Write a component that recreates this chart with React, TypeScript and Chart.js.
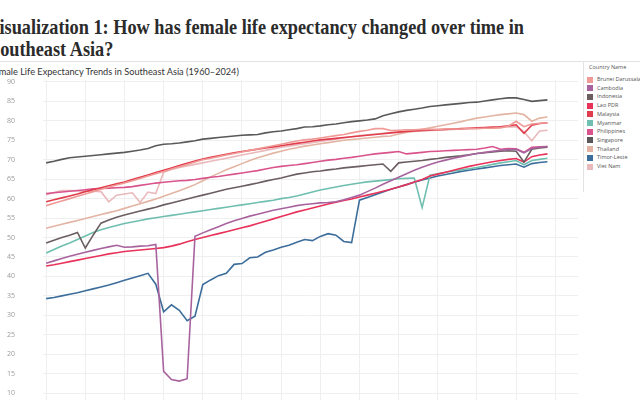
import React, { useEffect, useRef } from "react";
import { Chart, registerables } from "chart.js";
Chart.register(...registerables);

const years = [
  1960, 1961, 1962, 1963, 1964, 1965, 1966, 1967, 1968, 1969,
  1970, 1971, 1972, 1973, 1974, 1975, 1976, 1977, 1978, 1979,
  1980, 1981, 1982, 1983, 1984, 1985, 1986, 1987, 1988, 1989,
  1990, 1991, 1992, 1993, 1994, 1995, 1996, 1997, 1998, 1999,
  2000, 2001, 2002, 2003, 2004, 2005, 2006, 2007, 2008, 2009,
  2010, 2011, 2012, 2013, 2014, 2015, 2016, 2017, 2018, 2019,
  2020, 2021, 2022, 2023, 2024,
];

const countries = [
  "Brunei Darussalam", "Cambodia", "Indonesia", "Lao PDR", "Malaysia", "Myanmar",
  "Philippines", "Singapore", "Thailand", "Timor-Leste", "Viet Nam",
];

const colors = [
  "#ef9a97", "#a8639f", "#6b5e60", "#e8325a", "#e03c4b", "#6fbfb0",
  "#d9548c", "#5b5859", "#e3b4a3", "#3c6d9b", "#e9b9bb",
];

const brunei = [
  58.2, 58.8, 59.4, 60.0, 60.6, 61.2, 61.8, 62.4, 63.0, 63.5,
  64.0, 64.6, 65.2, 65.8, 66.4, 67.0, 67.6, 68.2, 68.8, 69.4,
  70.0, 70.4, 70.8, 71.2, 71.6, 72.0, 72.4, 72.8, 73.2, 73.6,
  74.0, 74.4, 74.8, 75.1, 75.3, 75.6, 75.9, 76.2, 76.5, 76.9,
  77.3, 77.6, 78.0, 78.0, 77.5, 77.6, 77.7, 77.7, 77.8, 77.8,
  77.8, 77.9, 77.9, 77.9, 78.0, 78.0, 78.1, 78.1, 78.2, 78.6,
  79.9, 78.5, 79.2, 79.4, 79.5,
];
const cambodia = [
  43.4, 44.0, 44.6, 45.2, 45.7, 46.2, 46.7, 47.2, 47.6, 48.0,
  47.5, 47.6, 47.8, 47.9, 48.2, 15.6, 13.5, 13.1, 13.7, 50.3,
  51.2, 52.0, 52.8, 53.6, 54.3, 54.9, 55.5, 56.0, 56.5, 57.0,
  57.4, 57.8, 58.2, 58.5, 58.7, 58.9, 59.0, 59.2, 59.7, 60.3,
  60.9, 61.8, 62.7, 63.7, 64.6, 65.5, 66.4, 67.3, 68.1, 68.8,
  69.4, 69.9, 70.4, 70.8, 71.2, 71.6, 71.9, 72.2, 72.4, 72.6,
  72.7, 71.8, 72.9, 73.2, 73.4,
];
const indonesia = [
  48.6, 49.3, 50.0, 50.6, 51.3, 47.3, 50.6, 53.7, 54.5, 55.2,
  55.8, 56.3, 56.8, 57.3, 57.8, 58.4, 58.9, 59.4, 59.9, 60.4,
  60.9, 61.4, 61.9, 62.4, 62.8, 63.2, 63.6, 64.0, 64.5, 64.9,
  65.3, 65.8, 66.3, 66.6, 66.9, 67.1, 67.4, 67.6, 67.9, 68.1,
  68.3, 68.5, 68.7, 68.9, 67.0, 69.2, 69.4, 69.6, 69.8, 70.1,
  70.3, 70.6, 70.8, 71.0, 71.3, 71.6, 71.8, 72.0, 72.2, 72.3,
  72.2, 69.4, 72.7, 73.0, 73.2,
];
const lao = [
  42.7, 43.0, 43.4, 43.8, 44.2, 44.6, 45.0, 45.4, 45.8, 46.1,
  46.4, 46.6, 46.8, 47.0, 47.2, 47.4, 47.8, 48.3, 48.9, 49.5,
  50.0, 50.5, 51.0, 51.5, 52.0, 52.5, 53.0, 53.6, 54.2, 54.8,
  55.4, 56.0, 56.6, 57.1, 57.6, 58.1, 58.6, 59.1, 59.5, 59.9,
  60.4, 60.9, 61.4, 61.9, 62.4, 63.0, 63.6, 64.3, 64.9, 65.8,
  66.3, 66.8, 67.3, 67.8, 68.3, 68.7, 69.1, 69.5, 69.8, 70.1,
  70.3, 69.4, 70.8, 71.2, 71.5,
];
const malaysia = [
  59.2, 59.7, 60.2, 60.7, 61.2, 61.8, 62.3, 62.8, 63.3, 63.8,
  64.3, 64.9, 65.5, 66.1, 66.7, 67.3, 67.9, 68.5, 69.1, 69.7,
  70.2, 70.6, 71.0, 71.4, 71.8, 72.1, 72.4, 72.7, 73.0, 73.3,
  73.6, 73.9, 74.2, 74.5, 74.8, 75.1, 75.3, 75.5, 75.7, 75.9,
  76.1, 76.3, 76.5, 76.7, 76.9, 77.1, 77.3, 77.4, 77.5, 77.6,
  77.7, 77.8, 77.9, 78.0, 78.1, 78.2, 78.3, 78.4, 78.5, 78.7,
  79.0, 76.8, 78.9, 79.3, 79.5,
];
const myanmar = [
  46.0, 46.9, 47.8, 48.6, 49.5, 50.4, 51.3, 52.0, 52.6, 53.1,
  53.6, 54.0, 54.4, 54.8, 55.1, 55.4, 55.7, 56.0, 56.3, 56.6,
  56.9, 57.2, 57.5, 57.8, 58.1, 58.4, 58.7, 59.0, 59.3, 59.6,
  60.0, 60.3, 60.7, 61.2, 61.7, 62.2, 62.6, 63.0, 63.4, 63.7,
  64.0, 64.3, 64.5, 64.7, 64.9, 65.1, 65.2, 65.3, 57.7, 66.0,
  66.4, 66.8, 67.1, 67.4, 67.7, 68.0, 68.4, 68.8, 69.2, 69.5,
  69.8, 68.7, 69.8, 70.1, 70.4,
];
const philippines = [
  61.3, 61.5, 61.7, 61.9, 62.1, 62.3, 62.5, 62.6, 62.7, 62.8,
  62.9, 63.1, 63.4, 63.7, 64.0, 64.2, 64.4, 64.6, 64.7, 64.9,
  65.2, 65.5, 65.7, 66.0, 66.3, 66.6, 66.9, 67.2, 67.6, 68.0,
  68.3, 68.5, 68.7, 69.0, 69.3, 69.6, 69.9, 70.1, 70.4, 70.6,
  70.9, 71.2, 71.5, 71.7, 71.9, 72.1, 71.5, 71.7, 71.9, 72.1,
  72.2, 72.3, 72.4, 72.5, 72.6, 72.7, 73.0, 73.4, 72.7, 72.9,
  72.8, 71.9, 73.2, 73.3, 73.4,
];
const singapore = [
  69.2, 69.6, 70.1, 70.5, 70.7, 70.9, 71.1, 71.3, 71.5, 71.7,
  71.9, 72.2, 72.5, 72.9, 73.6, 74.0, 74.1, 74.3, 74.6, 74.9,
  75.3, 75.5, 75.7, 75.9, 76.1, 76.3, 76.4, 76.5, 76.9, 77.2,
  77.4, 77.7, 78.0, 78.4, 78.5, 78.7, 79.0, 79.2, 79.5, 79.8,
  80.0, 80.2, 80.5, 81.3, 81.8, 82.3, 82.7, 83.0, 83.3, 83.7,
  83.9, 84.1, 84.3, 84.5, 84.7, 84.8, 85.1, 85.4, 85.7, 85.9,
  85.9, 85.5, 85.0, 85.2, 85.4,
];
const thailand = [
  52.4, 52.9, 53.4, 53.9, 54.4, 54.9, 55.4, 55.9, 56.4, 56.9,
  57.5, 58.1, 58.7, 59.3, 59.9, 60.6, 61.3, 62.0, 62.8, 63.6,
  64.6, 65.6, 66.5, 67.4, 68.2, 69.0, 69.8, 70.5, 71.1, 71.7,
  72.2, 72.7, 73.1, 73.5, 73.8, 74.1, 74.4, 74.7, 75.0, 75.2,
  75.4, 75.6, 75.8, 76.0, 76.1, 76.6, 77.0, 77.4, 77.8, 78.2,
  78.6, 79.0, 79.4, 79.8, 80.3, 80.7, 81.0, 81.3, 81.6, 81.8,
  82.0, 81.6, 79.9, 80.7, 81.0,
];
const timorLeste = [
  34.3, 34.6, 35.0, 35.4, 35.8, 36.3, 36.8, 37.3, 37.8, 38.4,
  39.0, 39.6, 40.2, 40.8, 38.0, 30.9, 32.7, 31.3, 28.6, 29.8,
  37.9, 39.1, 40.2, 40.8, 43.1, 43.3, 44.8, 45.0, 46.2, 46.8,
  47.5, 48.0, 48.8, 49.5, 49.2, 50.3, 51.0, 50.6, 49.0, 48.7,
  59.6, 60.3, 61.0, 61.7, 62.4, 63.0, 63.6, 64.2, 64.8, 65.3,
  65.8, 66.2, 66.6, 67.0, 67.3, 67.6, 67.9, 68.2, 68.5, 68.7,
  68.9, 68.1, 69.0, 69.3, 69.5,
];
const vietNam = [
  61.0, 61.6, 62.1, 62.1, 62.0, 61.9, 61.9, 61.8, 59.2, 60.9,
  61.2, 61.5, 59.0, 61.7, 61.3, 66.8, 67.5, 68.0, 68.4, 68.8,
  69.2, 69.6, 70.0, 70.4, 70.8, 71.2, 71.6, 72.0, 72.4, 72.8,
  73.2, 73.5, 73.8, 74.1, 74.4, 74.7, 75.0, 75.3, 75.6, 75.9,
  76.2, 76.4, 76.6, 76.8, 77.0, 77.1, 77.2, 77.3, 77.4, 77.5,
  77.6, 77.7, 77.8, 77.9, 78.0, 78.1, 78.2, 78.3, 78.4, 78.4,
  78.5, 77.2, 74.9, 77.4, 77.6,
];

const seriesValues = [
  brunei, cambodia, indonesia, lao, malaysia, myanmar,
  philippines, singapore, thailand, timorLeste, vietNam,
];

const xGridYears = [1960, 1965, 1970, 1975, 1980, 1985, 1990, 1995, 2000, 2005, 2010, 2015, 2020, 2025];
const yTickValues = [10, 15, 20, 25, 30, 35, 40, 45, 50, 55, 60, 65, 70, 75, 80, 85, 90];

const titleLine1 = "Visualization 1: How has female life expectancy changed over time in";
const titleLine2 = "Southeast Asia?";
const subtitle = "Female Life Expectancy Trends in Southeast Asia (1960\u20132024)";
const legendTitle = "Country Name";

export default function App() {
  const ref = useRef<HTMLCanvasElement>(null);

  useEffect(() => {
    const chart = new Chart(ref.current as HTMLCanvasElement, {
      type: "line",
      data: {
        datasets: seriesValues.map((vals, i) => ({
          label: countries[i],
          data: years.map((yr, j) => ({ x: yr, y: vals[j] })),
          borderColor: colors[i],
          backgroundColor: colors[i],
          borderWidth: 1.6,
          pointRadius: 0,
          fill: false,
          tension: 0,
        })),
      },
      options: {
        responsive: false,
        animation: false,
        layout: { padding: { left: 7, right: 0, top: 18, bottom: 0 } },
        plugins: { legend: { display: false }, tooltip: { enabled: false } },
        scales: {
          x: {
            type: "linear",
            min: 1959.6,
            max: 2027.9,
            afterBuildTicks: (s: any) => {
              s.ticks = xGridYears.map((v) => ({ value: v }));
            },
            afterFit: (s: any) => {
              s.height = 0;
            },
            ticks: { display: false },
            grid: { color: "#efefef", drawTicks: false, lineWidth: 1 },
            border: { display: false },
          },
          y: {
            type: "linear",
            min: 7,
            max: 90.5,
            afterBuildTicks: (s: any) => {
              s.ticks = yTickValues.map((v) => ({ value: v }));
            },
            afterFit: (s: any) => {
              s.width = 36;
            },
            ticks: {
              crossAlign: "far",
              padding: 0,
              color: "#9a9a9a",
              font: { family: "'Open Sans', sans-serif", size: 7 },
            },
            grid: { color: "#efefef", drawTicks: false, lineWidth: 1 },
            border: { display: false },
          },
        },
      },
    });
    return () => chart.destroy();
  }, []);

  const titleStyle: React.CSSProperties = {
    position: "absolute",
    fontFamily: "'Liberation Serif', serif",
    fontWeight: 700,
    fontSize: 21.5,
    lineHeight: "22px",
    color: "#2b2b2b",
    whiteSpace: "nowrap",
    transform: "scaleX(0.85)",
    transformOrigin: "0 0",
  };

  return (
    <div
      style={{
        position: "fixed",
        left: 0,
        top: 0,
        width: 640,
        height: 400,
        overflow: "hidden",
        background: "#ffffff",
      }}
    >
      <div style={{ ...titleStyle, left: -13, top: 16 }}>{titleLine1}</div>
      <div style={{ ...titleStyle, left: -10.5, top: 38 }}>{titleLine2}</div>
      <div
        style={{
          position: "absolute",
          left: 0,
          top: 61,
          width: 640,
          height: 1,
          background: "#e3e3e3",
        }}
      />
      <div
        style={{
          position: "absolute",
          left: -11,
          top: 66,
          fontFamily: "Lato, sans-serif",
          fontSize: 9.2,
          color: "#333333",
          whiteSpace: "nowrap",
        }}
      >
        {subtitle}
      </div>
      <canvas
        ref={ref}
        width={578}
        height={347}
        style={{ position: "absolute", left: 0, top: 62, width: 578, height: 347 }}
      />
      <div
        style={{
          position: "absolute",
          left: 583,
          top: 62,
          width: 60,
          height: 130,
          borderLeft: "1px solid #e3e3e3",
          fontFamily: "'Open Sans', sans-serif",
          color: "#555555",
          whiteSpace: "nowrap",
        }}
      >
        <div style={{ position: "absolute", left: 5, top: 1, fontSize: 5.5 }}>{legendTitle}</div>
        {countries.map((c, i) => (
          <div
            key={c}
            style={{ position: "absolute", left: 3, top: 14 + i * 8.7, height: 7, display: "flex", alignItems: "center" }}
          >
            <span style={{ display: "inline-block", width: 6, height: 6, background: colors[i], marginRight: 4 }} />
            <span style={{ fontSize: 5.5, lineHeight: "7px" }}>{c}</span>
          </div>
        ))}
      </div>
    </div>
  );
}
